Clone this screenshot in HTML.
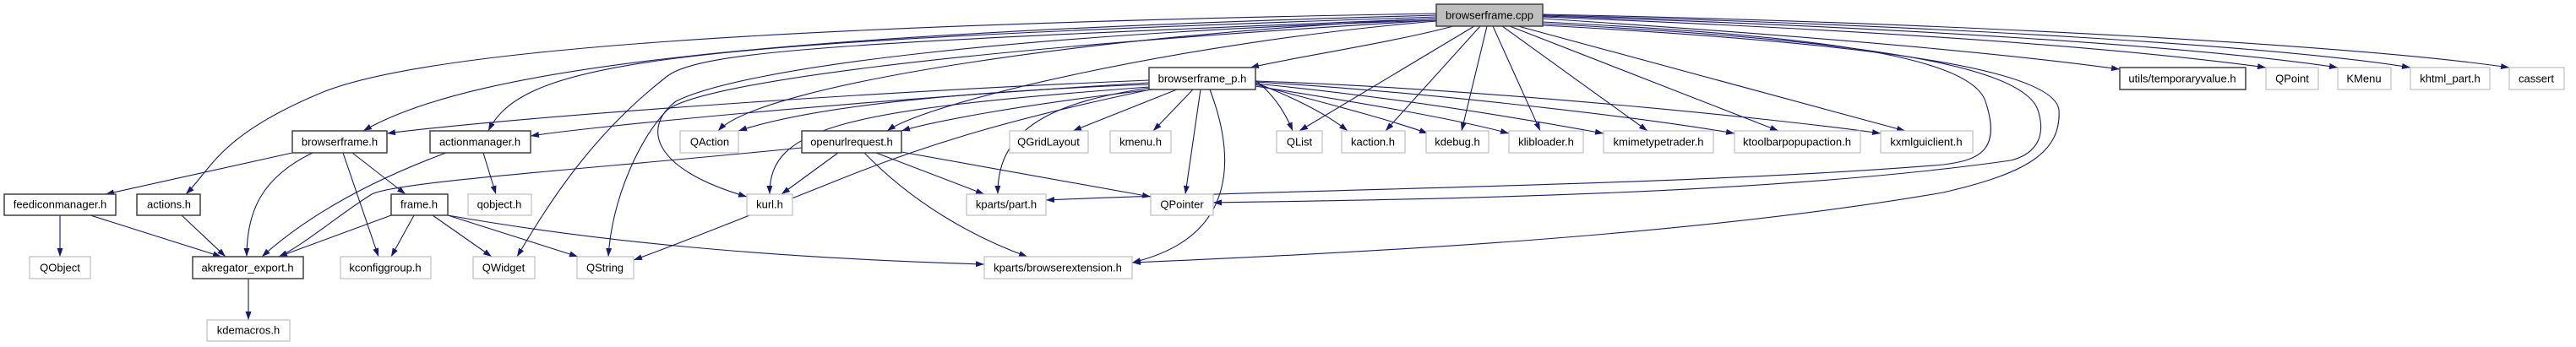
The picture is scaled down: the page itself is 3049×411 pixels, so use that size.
<!DOCTYPE html>
<html><head><meta charset="utf-8"><style>
html,body{margin:0;padding:0;background:#fff}
svg{display:block}
text{font-family:"Liberation Sans",sans-serif;font-size:13px;fill:#000;text-anchor:middle;dominant-baseline:central}
.e{fill:none;stroke:#191970;stroke-width:1.1}
.b{fill:#fff;stroke:#404040;stroke-width:1.5}
.g{fill:#fff;stroke:#bfbfbf;stroke-width:1.2}
</style></head><body>
<svg width="3049" height="411" viewBox="0 0 3049 411" xmlns="http://www.w3.org/2000/svg">
<defs><marker id="a" viewBox="0 0 10 7" refX="10" refY="3.5" markerWidth="10" markerHeight="7" markerUnits="userSpaceOnUse" orient="auto"><path d="M0,0 L10,3.5 L0,7 z" fill="#191970"/></marker></defs>
<g class="e" marker-end="url(#a)">
<path d="M1700,18 C900,40 560,80 430,155"/>
<path d="M1700,20 C800,50 620,70 578,155"/>
<path d="M1700,16 C900,30 500,60 380,110 S250,200 220,230"/>
<path d="M1720,31 C1650,50 1520,70 1480,80"/>
<path d="M1700,22 C1300,40 900,100 850,155"/>
<path d="M1700,25 C1400,50 1100,120 1050,155"/>
<path d="M1700,24 C1200,40 880,80 800,120 C760,150 770,200 884,233"/>
<path d="M1700,22 C1000,50 830,60 790,90 C700,160 650,240 612,304"/>
<path d="M1700,24 C1100,60 830,100 790,130 C760,160 725,230 720,304"/>
<path d="M1745,31 L1538,155"/>
<path d="M1752,31 L1640,155"/>
<path d="M1760,31 L1730,155"/>
<path d="M1767,31 L1823,155"/>
<path d="M1778,31 L1950,155"/>
<path d="M1787,31 L2105,155"/>
<path d="M1797,31 L2255,155"/>
<path d="M1826,22 C2100,40 2350,60 2509,82"/>
<path d="M1826,20 C2200,35 2500,55 2682,80"/>
<path d="M1826,19 C2250,32 2600,55 2767,80"/>
<path d="M1826,18 C2300,30 2700,55 2853,80"/>
<path d="M1826,17 C2350,28 2800,55 2970,80"/>
<path d="M1826,26 C2100,40 2330,60 2350,120 C2370,180 2340,190 2300,195 C2000,220 1500,225 1238,237"/>
<path d="M1826,28 C2150,45 2390,70 2412,130 C2425,170 2400,185 2380,190 C2100,230 1700,236 1436,240"/>
<path d="M1826,30 C2200,50 2430,80 2437,130 C2440,180 2400,205 2300,228 C2000,280 1600,300 1340,311"/>
<path d="M1360,95 C1000,110 600,140 458,158"/>
<path d="M1360,98 C1000,120 700,150 628,161"/>
<path d="M1360,100 C1100,110 950,130 874,155"/>
<path d="M1365,106 C1200,125 1100,145 1067,155"/>
<path d="M1393,106 L1270,155"/>
<path d="M1412,106 L1365,155"/>
<path d="M1421,106 L1403,230"/>
<path d="M1432,106 C1460,180 1470,280 1340,311"/>
<path d="M1362,104 C1250,120 1180,150 1181,230"/>
<path d="M1360,103 C1000,130 910,150 911,230"/>
<path d="M1362,106 C1200,140 1100,170 1000,210 C900,250 800,290 750,308"/>
<path d="M1486,95 C1505,110 1520,130 1530,155"/>
<path d="M1486,98 C1530,115 1570,135 1595,155"/>
<path d="M1486,100 C1560,120 1640,140 1690,158"/>
<path d="M1486,102 C1600,120 1720,140 1786,158"/>
<path d="M1486,99 C1650,115 1800,140 1898,158"/>
<path d="M1486,97 C1700,110 1950,140 2053,158"/>
<path d="M1486,96 C1750,105 2100,140 2226,158"/>
<path d="M530,255 C700,285 900,305 1165,313"/>
<path d="M949,175 C700,200 470,215 440,230 C400,255 360,290 330,304"/>
<path d="M992,181 L925,230"/>
<path d="M1037,181 L1165,230"/>
<path d="M1067,180 L1362,233"/>
<path d="M1023,181 C1080,240 1150,280 1216,304"/>
<path d="M346,181 L125,230"/>
<path d="M370,181 C310,210 292,250 292,304"/>
<path d="M406,181 L448,304"/>
<path d="M417,181 L480,230"/>
<path d="M528,181 C450,210 370,250 310,304"/>
<path d="M572,181 L587,230"/>
<path d="M71,255 L71,304"/>
<path d="M107,255 L262,304"/>
<path d="M215,255 L267,304"/>
<path d="M463,255 L330,304"/>
<path d="M490,255 L463,304"/>
<path d="M512,255 L582,304"/>
<path d="M530,255 L684,304"/>
<path d="M294,330 L294,379"/>
</g>
<rect x="1700" y="5" width="126" height="26" fill="#bfbfbf" stroke="#404040" stroke-width="1.5"/><text x="1763" y="18">browserframe.cpp</text>
<rect class="b" x="1360" y="80" width="126" height="26"/><text x="1423" y="93">browserframe_p.h</text>
<rect class="b" x="2509" y="80" width="149" height="26"/><text x="2583" y="93">utils/temporaryvalue.h</text>
<rect class="g" x="2682" y="80" width="62" height="26"/><text x="2713" y="93">QPoint</text>
<rect class="g" x="2767" y="80" width="63" height="26"/><text x="2798" y="93">KMenu</text>
<rect class="g" x="2853" y="80" width="94" height="26"/><text x="2900" y="93">khtml_part.h</text>
<rect class="g" x="2970" y="80" width="65" height="26"/><text x="3002" y="93">cassert</text>
<rect class="b" x="346" y="155" width="112" height="26"/><text x="402" y="168">browserframe.h</text>
<rect class="b" x="509" y="155" width="119" height="26"/><text x="568" y="168">actionmanager.h</text>
<rect class="g" x="805" y="155" width="69" height="26"/><text x="840" y="168">QAction</text>
<rect class="b" x="949" y="155" width="118" height="26"/><text x="1008" y="168">openurlrequest.h</text>
<rect class="g" x="1195" y="155" width="93" height="26"/><text x="1241" y="168">QGridLayout</text>
<rect class="g" x="1314" y="155" width="72" height="26"/><text x="1350" y="168">kmenu.h</text>
<rect class="g" x="1511" y="155" width="54" height="26"/><text x="1538" y="168">QList</text>
<rect class="g" x="1588" y="155" width="75" height="26"/><text x="1625" y="168">kaction.h</text>
<rect class="g" x="1688" y="155" width="74" height="26"/><text x="1725" y="168">kdebug.h</text>
<rect class="g" x="1786" y="155" width="88" height="26"/><text x="1830" y="168">klibloader.h</text>
<rect class="g" x="1898" y="155" width="130" height="26"/><text x="1963" y="168">kmimetypetrader.h</text>
<rect class="g" x="2053" y="155" width="149" height="26"/><text x="2127" y="168">ktoolbarpopupaction.h</text>
<rect class="g" x="2226" y="155" width="109" height="26"/><text x="2280" y="168">kxmlguiclient.h</text>
<rect class="b" x="5" y="230" width="132" height="25"/><text x="71" y="242">feediconmanager.h</text>
<rect class="b" x="162" y="230" width="75" height="25"/><text x="200" y="242">actions.h</text>
<rect class="b" x="463" y="230" width="67" height="25"/><text x="496" y="242">frame.h</text>
<rect class="g" x="554" y="230" width="75" height="25"/><text x="591" y="242">qobject.h</text>
<rect class="g" x="884" y="230" width="54" height="25"/><text x="911" y="242">kurl.h</text>
<rect class="g" x="1144" y="230" width="94" height="25"/><text x="1191" y="242">kparts/part.h</text>
<rect class="g" x="1362" y="230" width="74" height="25"/><text x="1399" y="242">QPointer</text>
<rect class="g" x="35" y="304" width="72" height="26"/><text x="71" y="317">QObject</text>
<rect class="b" x="228" y="304" width="131" height="26"/><text x="293" y="317">akregator_export.h</text>
<rect class="g" x="403" y="304" width="107" height="26"/><text x="456" y="317">kconfiggroup.h</text>
<rect class="g" x="560" y="304" width="73" height="26"/><text x="596" y="317">QWidget</text>
<rect class="g" x="683" y="304" width="67" height="26"/><text x="716" y="317">QString</text>
<rect class="g" x="1165" y="304" width="175" height="26"/><text x="1252" y="317">kparts/browserextension.h</text>
<rect class="g" x="245" y="379" width="98" height="25"/><text x="294" y="391">kdemacros.h</text>
</svg>
</body></html>
